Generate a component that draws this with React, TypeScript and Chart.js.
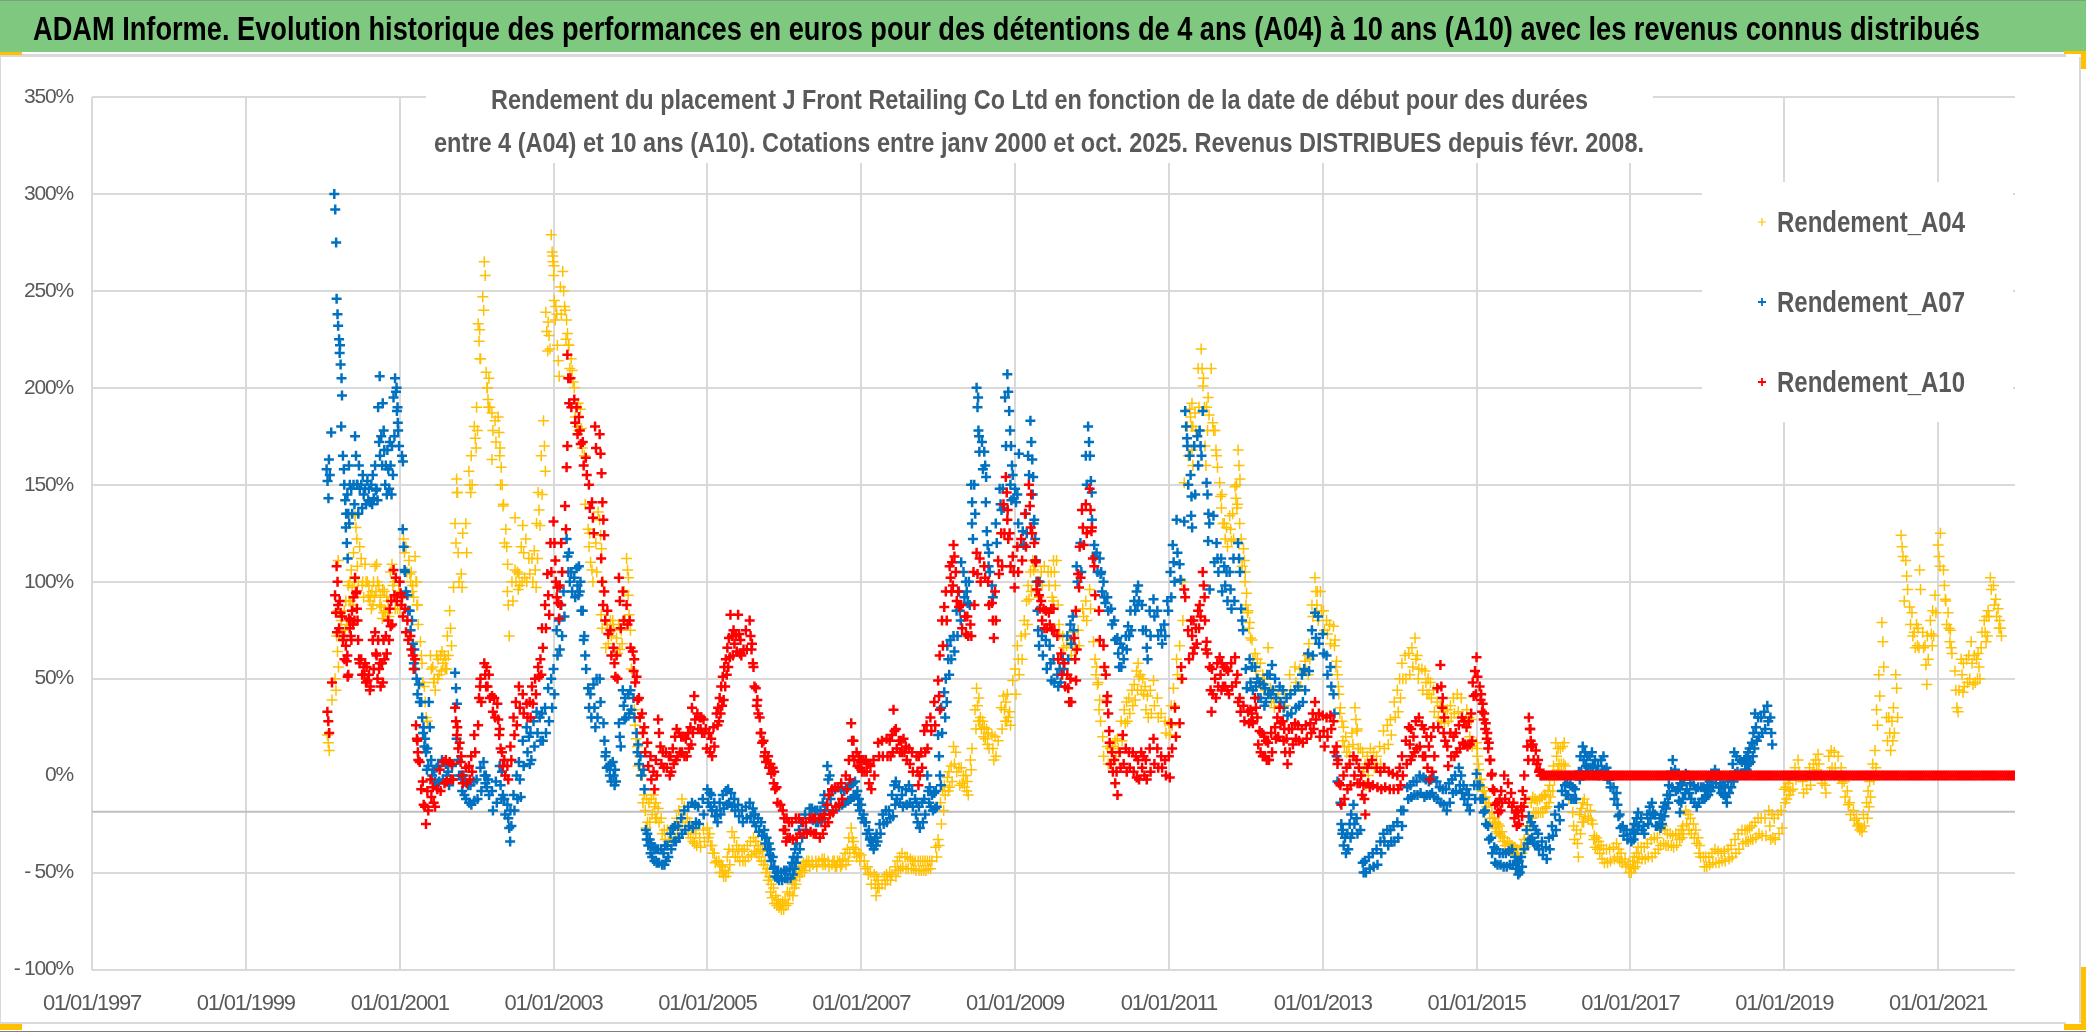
import React, { useEffect, useRef } from "react";
import { Chart, registerables } from "chart.js";

Chart.register(...registerables);

const bannerTitle =
  "ADAM Informe. Evolution historique des performances en euros pour des détentions de 4 ans (A04) à 10 ans (A10) avec les revenus connus distribués";
const subtitleLines = [
  "Rendement du placement J Front Retailing Co Ltd en fonction de la date de début pour des durées",
  "entre 4 (A04) et 10 ans (A10). Cotations entre janv 2000 et oct. 2025. Revenus DISTRIBUES depuis févr. 2008.",
];
const tickYears = [1997, 1999, 2001, 2003, 2005, 2007, 2009, 2011, 2013, 2015, 2017, 2019, 2021];
const axisLineValue = -18.6;

// Each row: [date as decimal year, values read at that date...]
const a04: number[][] = [
  [2000.06,21,17,13],[2000.12,39],[2000.16,50,44],[2000.18,72,64,56],[2000.2,111],[2000.28,85,75],[2000.33,98,90],[2000.37,106,97,88],[2000.42,134,128,122],[2000.45,108,100],
  [2000.48,118],[2000.52,100,92],[2000.55,109,100],[2000.6,98,90],[2000.62,93,86],[2000.66,100,92],[2000.7,109,100],[2000.75,93,87,81],[2000.8,95,85],[2000.85,90,82],[2000.9,109,98],[2000.96,92,86],
  [2001.05,122,115],[2001.12,111,104,100],[2001.17,98,92],[2001.2,113,100,88],[2001.24,78],[2001.27,69,62],[2001.32,46,38,30],[2001.36,28],[2001.4,62,55],[2001.45,50,44],[2001.5,60,52],[2001.55,64,58],[2001.6,60,55],
  [2001.65,85,76,67],[2001.7,97],[2001.72,130,120,146],[2001.74,153,146],[2001.8,104,97],[2001.82,125],[2001.9,157,150,146],[2001.97,180,174,169],[2002.02,233,224,215],[2002.08,247,240],[2002.1,265,258,208,200,194],
  [2002.2,187,178],[2002.2,163],[2002.28,185,177,169],[2002.32,159,150,139],[2002.38,127,118,109],[2002.4,95,88,72],[2002.5,106,100],[2002.5,133],[2002.55,104,98],[2002.6,129,115,102],[2002.68,112,104],[2002.75,116,106,97],
  [2002.8,146,137,129],[2002.87,183,170,157],[2002.9,239,229,219],[2002.93,234,227,220],[2002.97,279,270,265,263],[2003.03,242,238],[2003.05,222,214,206],[2003.12,260,250,242],[2003.17,235,228,222],[2003.23,215,209,203],
  [2003.3,190,180],[2003.35,189,179,169],[2003.45,127,118],[2003.5,106,100],[2003.58,136],[2003.6,132,124,117],[2003.64,100,95],[2003.62,83,76],[2003.68,66],[2003.77,80,76],[2003.82,71,63],[2003.88,75,68],
  [2003.95,112,106,102],[2003.97,93,83],[2004.05,34,26,19],[2004.12,10,0],[2004.18,-10,-18,-27],[2004.24,-14,-24],[2004.3,-10,-16,-22],[2004.36,-17,-24],[2004.44,-28,-33],[2004.53,-34],[2004.6,-22,-30],[2004.67,-12,-22],[2004.74,-22,-30],
  [2004.8,-27,-34],[2004.85,-30,-36],[2004.9,-32,-37],[2005,-27,-32],[2005.06,-36,-40],[2005.12,-44],[2005.18,-46,-50],[2005.23,-49,-52],[2005.28,-38,-46],[2005.32,-29,-39],[2005.38,-36,-42],[2005.45,-39,-44],[2005.52,-36,-42],[2005.6,-32,-39],[2005.66,-36,-42],
  [2005.72,-39,-46],[2005.78,-48,-54],[2005.83,-56,-63],[2005.89,-62,-67],[2005.95,-66,-69],[2006.01,-64,-67],[2006.07,-61],[2006.12,-54,-58],[2006.16,-51],[2006.22,-47,-50],[2006.28,-46,-44],[2006.36,-44,-46],[2006.45,-44],[2006.52,-43,-46],
  [2006.62,-46,-44],[2006.68,-47,-44],[2006.75,-46,-43],[2006.82,-38,-44],[2006.87,-27,-32,-37],[2006.93,-38,-42],[2007,-41],[2007.08,-47,-51],[2007.17,-51,-56,-62],[2007.22,-54,-58],[2007.27,-56],[2007.33,-51,-54],[2007.4,-51],[2007.47,-44,-49],
  [2007.53,-40,-47],[2007.6,-42,-48],[2007.67,-44,-48],[2007.74,-44,-49],[2007.8,-44,-49],[2007.86,-44,-48],[2007.92,-44],[2007.97,-37,-42],[2008,-33,-36],[2008.03,-14,-25],[2008.08,-5,-10],[2008.12,-1,-8],[2008.17,5,-3],
  [2008.2,15,6],[2008.27,4,-5],[2008.33,0,-6],[2008.38,-3,-10],[2008.42,8,3],[2008.44,14],[2008.5,45,36,28],[2008.55,30,24],[2008.6,25,19],[2008.65,22,14],[2008.7,21,14,8],[2008.78,18],[2008.85,41,34,28],[2008.93,33,26],[2008.97,49],
  [2009.03,67,60,52],[2009.12,80,73],[2009.17,98,91],[2009.23,111,106],[2009.3,100,92],[2009.38,108],[2009.5,111,105,98],[2009.54,111],[2009.5,90],[2009.58,73],[2009.67,67],[2009.82,75,67],[2009.88,86,82],[2009.97,96,86],
  [2010.02,69],[2010.06,56,47],[2010.1,39,28],[2010.2,15,6],[2010.27,15,8],[2010.33,19,14],[2010.42,34,27],[2010.48,40,32],[2010.55,47,39],[2010.6,58,51],[2010.66,50,42],[2010.72,41,30],[2010.8,49,36],[2010.9,32],[2011,27,21],[2011.06,45,36],[2011.1,60,52],
  [2011.14,67,50],[2011.2,151],[2011.27,189,185,180],[2011.3,168,160],[2011.34,187,178],[2011.42,220,210,201],[2011.47,170,160],[2011.51,195,186],[2011.55,210],[2011.57,182,178],[2011.62,165,159],[2011.66,151,144,138],[2011.72,130,122],[2011.79,134,127,121],[2011.86,149,143,138],
  [2011.9,168,160,153],[2011.92,130],[2011.97,117,111,105],[2012.01,94,84],[2012.05,79,71],[2012.12,63,54],[2012.19,58,48],[2012.24,50,44],[2012.29,66],[2012.36,40,35],[2012.5,42,36],[2012.64,56,48],[2012.77,59,54],[2012.82,68,60],[2012.86,88,82],[2012.9,102,95,88],[2012.97,95,85],
  [2013.05,80,73],[2013.14,77,67],[2013.18,59,52,46],[2013.23,35],[2013.27,25,15],[2013.34,15,10],[2013.38,22,16],[2013.42,35,29,23],[2013.49,14],[2013.55,6,-5],[2013.62,14,6],[2013.7,10,4],[2013.79,23,14],[2013.88,29,21],[2013.93,38,30],[2013.97,44,33],
  [2014.03,58,50],[2014.12,63,52],[2014.2,71,60],[2014.25,55],[2014.33,54,48,42],[2014.4,48,40],[2014.44,44,33],[2014.57,33,27],[2014.66,36,30],[2014.75,42,33],[2014.86,29,34],[2014.93,29,15],[2015,17,10],
  [2015.03,3,-2],[2015.08,-6,-11],[2015.12,-11,-16],[2015.2,-19,-25],[2015.25,-24,-29],[2015.3,-26,-31],[2015.36,-32,-36],[2015.43,-35,-38],[2015.48,-37,-40],[2015.53,-38,-42],[2015.62,-33,-37],[2015.68,-21,-26],[2015.73,-11,-19],[2015.79,-13,-19],[2015.85,-11,-19],[2015.9,-10,-16],[2015.95,-5,-11],[2016,5,-2],
  [2016.03,17,10,3],[2016.09,14,6],[2016.14,17,5],[2016.2,-12],[2016.25,-19,-26,-33],[2016.3,-28,-35,-42],[2016.36,-17,-24],[2016.4,-12,-21],[2016.48,-18,-23],[2016.53,-31,-37],[2016.59,-34,-40],[2016.65,-38,-45],[2016.73,-38,-44],[2016.82,-35,-42],[2016.88,-40,-45],[2016.93,-43,-47],
  [2017,-47,-50],[2017.05,-42,-47],[2017.1,-37,-42],[2017.18,-37,-43],[2017.27,-33,-42],[2017.35,-32,-38],[2017.42,-26,-35],[2017.48,-30,-36],[2017.55,-31,-37],[2017.63,-30,-33],[2017.68,-26,-30],[2017.72,-18,-25],[2017.78,-22,-30],[2017.85,-28,-35],[2017.9,-36,-42],
  [2017.95,-42,-47],[2018.02,-42,-46],[2018.1,-38,-45],[2018.18,-40,-44],[2018.27,-38,-43],[2018.36,-33,-40],[2018.45,-28,-35],[2018.52,-28,-34],[2018.58,-26,-33],[2018.66,-22,-30],[2018.75,-22,-31],[2018.8,-18,-26,-33],[2018.87,-22,-33],[2018.96,-18,-27],
  [2019,-7,-14],[2019.05,-4,-10],[2019.1,0,-7],[2019.18,8,2],[2019.24,-3,-9],[2019.33,4,-5],[2019.38,6,0],[2019.44,11,6],[2019.48,0,-4],[2019.53,-5,-9],[2019.61,13,4],[2019.65,12,4],[2019.7,10,-1],[2019.78,-3,-11],[2019.85,-14,-20],[2019.9,-18,-23],[2019.94,-22,-26],
  [2020,-27,-29],[2020.07,-14,-22],[2020.11,-3,-11],[2020.18,13,4],[2020.2,34,26],[2020.23,52,41],[2020.27,79,69,56],[2020.36,30,22,13],[2020.4,28,18],[2020.45,52,45,30],[2020.52,124,118,113],[2020.58,111,103,96],[2020.56,90],
  [2020.63,87,78],[2020.69,74,66],[2020.72,78,67],[2020.76,106,96],[2020.8,74,66],[2020.83,67,57,47],[2020.9,80,73,67],[2020.96,93,84],[2021,119,113,108],[2021.03,125],[2021.07,106,98,91],[2021.13,84,76,69],[2021.18,63],[2021.22,54,44,35],
  [2021.26,33,44],[2021.3,60,52,43],[2021.37,60,48],[2021.43,69,58,47],[2021.52,63,56,50],[2021.56,66,74],[2021.6,80,74,69],[2021.65,85,82],[2021.68,102,96],[2021.75,91,82],[2021.8,80,76,72],
];

// Second pass of readings, inside the dense bands of A04
const a04Dense: number[][] = [
  [2000.2,85,72],[2000.24,80,72],[2000.3,90,78],[2000.35,100,90],[2000.4,115,100],[2000.5,112,98],[2000.58,100,92],[2000.64,95,88],[2000.68,108,95],[2000.73,98,88],[2000.78,96,84],[2000.83,92,84],[2000.88,105,90],[2000.93,100,86],[2000.99,95,86],
  [2001.08,118,105],[2001.15,105,95],[2001.22,100,88],[2001.29,58,48],[2001.43,56,48],[2001.48,62,50],[2001.53,62,54],[2001.58,62,55],[2001.62,72,62],[2001.76,115,100],[2001.86,130,115],[2001.93,165,150],
  [2002,190,178],[2002.04,230,215],[2002.14,200,190],[2002.16,205,190],[2002.24,183,172],[2002.3,165,150],[2002.35,140,120],[2002.46,100,90],[2002.53,105,96],[2002.58,118,100],[2002.64,122,100],[2002.72,112,100],[2002.78,130,112],[2002.84,165,145],[2002.99,268,258],
  [2003.01,245,235],[2003.09,252,238],[2003.15,240,225],[2003.2,222,210],[2003.27,200,185],[2003.32,192,178],[2003.4,165,140],[2003.47,125,110],[2003.55,120,105],[2003.7,78,68],[2003.74,80,72],[2003.85,78,65],[2003.92,95,80],
  [2004,75,55],[2004.09,15,5],[2004.15,0,-14],[2004.21,-12,-24],[2004.27,-12,-20],[2004.33,-14,-22],[2004.4,-22,-30],[2004.48,-28,-34],[2004.57,-26,-33],[2004.63,-18,-26],[2004.7,-16,-26],[2004.77,-24,-32],[2004.82,-28,-35],[2004.95,-28,-34],
  [2005.03,-30,-36],[2005.09,-40,-45],[2005.15,-44,-50],[2005.2,-47,-52],[2005.26,-42,-50],[2005.35,-32,-42],[2005.41,-38,-44],[2005.48,-38,-44],[2005.56,-34,-41],[2005.63,-34,-40],[2005.69,-38,-44],[2005.75,-44,-50],[2005.81,-52,-60],[2005.86,-58,-66],[2005.92,-64,-68],[2005.98,-65,-69],
  [2006.04,-60,-66],[2006.1,-56,-62],[2006.14,-52,-56],[2006.19,-48,-52],[2006.25,-45,-49],[2006.32,-44,-47],[2006.41,-44,-47],[2006.49,-43,-46],[2006.57,-44,-47],[2006.65,-44,-47],[2006.72,-44,-47],[2006.79,-40,-46],[2006.84,-32,-40],[2006.9,-34,-40],[2006.97,-40,-44],
  [2007.04,-44,-48],[2007.12,-50,-56],[2007.2,-52,-58],[2007.3,-52,-56],[2007.37,-50,-54],[2007.44,-47,-52],[2007.5,-42,-48],[2007.57,-42,-48],[2007.64,-43,-48],[2007.7,-44,-49],[2007.77,-44,-49],[2007.83,-44,-49],[2007.89,-44,-48],
  [2008.06,-8,-18],[2008.14,2,-6],[2008.23,12,2],[2008.3,4,-4],[2008.36,0,-8],[2008.48,34,24],[2008.53,40,28],[2008.58,28,20],[2008.63,24,16],[2008.74,20,10],[2008.82,35,24],[2008.88,38,28],[2008.9,42,30],
  [2009,55,42],[2009.08,72,60],[2009.15,90,78],[2009.2,105,95],[2009.26,108,100],[2009.34,105,98],[2009.43,105,98],[2009.47,105,92],[2009.56,88,78],[2009.62,72,66],[2009.72,70,62],[2009.76,74,66],[2009.92,90,80],
  [2010.04,60,52],[2010.08,48,34],[2010.14,20,10],[2010.24,14,6],[2010.3,18,10],[2010.38,28,18],[2010.45,38,28],[2010.52,44,36],[2010.58,54,44],[2010.63,52,44],[2010.69,46,34],[2010.76,44,32],[2010.85,40,30],[2010.95,28,22],
  [2011.03,36,26],[2011.17,100,80],[2011.24,180,165],[2011.3,192,180],[2011.38,210,190],[2011.45,205,190],[2011.49,190,178],[2011.6,178,168],[2011.69,145,130],[2011.75,128,118],[2011.83,135,122],[2011.88,150,140],[2011.94,122,108],[2011.99,100,88],
  [2012.03,85,76],[2012.08,70,60],[2012.15,60,50],[2012.22,52,45],[2012.32,45,38],[2012.42,42,36],[2012.57,52,44],[2012.7,55,46],[2012.8,62,52],[2012.93,95,80],
  [2013.01,85,75],[2013.09,78,68],[2013.16,70,56],[2013.21,42,32],[2013.25,28,18],[2013.3,20,12],[2013.45,24,14],[2013.52,12,2],[2013.58,10,0],[2013.66,12,4],[2013.74,15,6],[2013.84,26,16],
  [2014,50,40],[2014.07,62,50],[2014.16,66,56],[2014.23,62,50],[2014.29,55,44],[2014.37,50,42],[2014.49,38,30],[2014.53,36,28],[2014.62,34,28],[2014.7,40,32],[2014.8,40,30],[2014.9,30,20],
  [2015.01,14,6],[2015.06,-2,-8],[2015.1,-8,-14],[2015.16,-14,-22],[2015.23,-22,-27],[2015.28,-25,-30],[2015.33,-29,-34],[2015.4,-34,-38],[2015.46,-36,-39],[2015.5,-37,-41],[2015.58,-36,-40],[2015.66,-26,-32],[2015.71,-14,-22],[2015.76,-12,-19],[2015.82,-12,-19],[2015.88,-10,-17],[2015.93,-8,-14],[2015.98,0,-8],
  [2016.06,14,6],[2016.12,15,6],[2016.34,-20,-30],[2016.38,-14,-24],[2016.44,-15,-22],[2016.51,-25,-33],[2016.56,-32,-38],[2016.62,-36,-43],[2016.69,-38,-45],[2016.78,-37,-43],[2016.85,-38,-44],[2016.97,-46,-50],
  [2017.03,-44,-48],[2017.08,-40,-45],[2017.14,-37,-43],[2017.22,-35,-42],[2017.31,-32,-40],[2017.38,-28,-36],[2017.45,-28,-36],[2017.52,-30,-36],[2017.59,-30,-36],[2017.66,-28,-32],[2017.75,-20,-28],[2017.82,-25,-32],[2017.88,-32,-40],[2017.98,-42,-47],
  [2018.06,-40,-45],[2018.14,-39,-45],[2018.22,-39,-44],[2018.31,-36,-42],[2018.4,-30,-38],[2018.49,-28,-34],[2018.55,-27,-33],[2018.62,-24,-32],[2018.7,-22,-31],[2018.84,-20,-32],[2018.92,-20,-30],
  [2019.02,-6,-12],[2019.07,-2,-8],[2019.14,4,-2],[2019.28,0,-7],[2019.41,8,3],[2019.58,10,2],[2019.74,4,-4],[2019.82,-8,-15],[2019.97,-25,-28],
  [2020.03,-20,-26],[2020.09,-8,-16],[2020.15,6,-2],[2020.33,30,18],[2020.42,35,22],[2020.66,84,72],[2020.74,76,66],[2020.86,72,60],[2020.93,85,72],[2021.1,90,78],[2021.16,75,66],[2021.33,58,46],[2021.4,62,50],[2021.47,62,48],[2021.5,60,50],[2021.63,82,72],[2021.72,98,88],[2021.78,86,76],
];

const a07: number[][] = [
  [2000.05,158,152,143],[2000.08,163,155],[2000.11,177],[2000.15,300,292,275],[2000.18,246,238],[2000.2,232,225,222],[2000.22,218,212,205],[2000.24,180],[2000.25,196,165,158],[2000.28,150,142,135],[2000.3,128,120,112],[2000.32,145,135,130],
  [2000.37,148,135],[2000.42,175,165,150],[2000.47,160,148],[2000.52,155,145],[2000.58,152,142],[2000.63,150,140],[2000.68,160,147],[2000.72,190,172,165],[2000.74,206],[2000.78,192,178],[2000.84,168,158,148],[2000.87,172,160,145],[2000.94,205,198,188,182],[2000.98,178,170],[2001.03,165,162],
  [2001.04,127,118,106],[2001.1,93,85],[2001.16,80,68,58],[2001.22,50,42],[2001.28,38,30,22],[2001.33,19,12,3],[2001.38,38,25],[2001.45,3,-3],[2001.5,5,-3],[2001.6,6,0],[2001.68,5,-2],[2001.72,53,45,37],[2001.74,19],[2001.8,0,-8],[2001.85,-3,-12],[2001.92,-5,-15],
  [2002,-2,-12],[2002.09,7,0,-4],[2002.15,-2,-10],[2002.2,-8,-18],[2002.3,5,-5,-12],[2002.36,-12,-20],[2002.4,-15,-22,-27,-34],[2002.48,-10,-18],[2002.55,7,-2,-11],[2002.65,25,12],[2002.7,22,8],[2002.78,33,22],[2002.85,32,18],[2002.93,45,28],
  [2003,55,42],[2003.04,75,62],[2003.07,80,65],[2003.13,95,82],[2003.17,122,113,105],[2003.23,105,95],[2003.3,107,98,93],[2003.35,100,85],[2003.4,72,62,55],[2003.45,45,35],[2003.52,47,35,25],[2003.6,50,38],[2003.65,27,18,10],[2003.72,5,0],[2003.77,7,0,-5],[2003.8,3,-3],
  [2003.85,27,20,15],[2003.9,44,36,29],[2003.97,42,32],[2004.04,40,30],[2004.08,22,12],[2004.13,10,0],[2004.17,3,-7],[2004.2,-28,-33],[2004.25,-33,-40],[2004.3,-37,-44],[2004.36,-38,-45],[2004.43,-40,-46],[2004.48,-36,-42],[2004.55,-27,-34],[2004.62,-26,-32],[2004.7,-18,-28],[2004.8,-14,-27],[2004.88,-16,-25],
  [2005,-7,-14],[2005.05,-10,-18],[2005.12,-18,-24],[2005.2,-10,-17],[2005.27,-7,-14],[2005.35,-12,-18],[2005.45,-18,-24],[2005.55,-14,-21],[2005.62,-20,-26],[2005.7,-24,-31],[2005.77,-32,-38],[2005.82,-38,-44],[2005.87,-47,-52],[2005.92,-50,-54],
  [2006,-49,-53],[2006.07,-48,-53],[2006.12,-42,-48],[2006.16,-35,-42],[2006.22,-24,-32],[2006.33,-17,-22],[2006.4,-18,-24],[2006.47,-18,-23],[2006.52,-10,-18],[2006.56,5,-2,-10],[2006.62,-8,-18],[2006.7,-6,-16],[2006.78,-8,-14],[2006.85,-5,-12],[2006.92,-3,-10],[2006.97,-12,-18],
  [2007.03,-20,-24],[2007.1,-28,-33],[2007.15,-34,-38],[2007.2,-30,-34],[2007.28,-20,-25],[2007.36,-18,-22],[2007.4,-10,-21],[2007.45,-3,-12],[2007.53,-10,-16],[2007.62,-5,-14],[2007.7,-12,-20],[2007.75,-16,-27],[2007.82,-12,-20],[2007.86,0,-8,-14],[2007.92,-10,-18],[2007.97,-8,-16],
  [2008,21,10,0,-5],[2008.08,43,30],[2008.12,67,60,52],[2008.2,72,64],[2008.27,95,85,80],[2008.3,110],[2008.36,100,95,89],[2008.44,130,122],[2008.43,150,141],[2008.5,200,190,178,167],[2008.6,167,160,154],[2008.62,141,126,119,108],[2008.7,98,92],[2008.8,148,140,137],[2008.9,207,198,188,178,170,160],
  [2009,148,141],[2009.05,166],[2009.1,126,119],[2009.2,183,172,163,154],[2009.25,132,122,111],[2009.32,100],[2009.3,75,67],[2009.45,67,58,49],[2009.55,52,46],[2009.62,60,55],[2009.75,82,75],[2009.8,108,100],[2009.95,180,172,165,152,146],
  [2010,132],[2010.03,119,113],[2010.1,112,104],[2010.15,100,92,89],[2010.25,86,78],[2010.33,71,63,56],[2010.4,66,60],[2010.47,77,72],[2010.55,90,85],[2010.6,98,90],[2010.7,75,66,60],[2010.8,91,82],[2010.9,75,68],[2010.98,90,85],
  [2011.05,119,110,100],[2011.1,132,115],[2011.14,109,101],[2011.2,131,188,180,174],[2011.27,165,155,144],[2011.29,134,128],[2011.4,178,170,165],[2011.44,188],[2011.49,151,145,135,130],[2011.51,121],[2011.53,96],[2011.58,134,110],[2011.62,120,112,105],[2011.72,108,98],[2011.79,105,96,86],[2011.9,120,112,105],[2011.94,86,80,75],
  [2012.05,60,48],[2012.12,56,46],[2012.18,48,40],[2012.23,47,36],[2012.28,52,42],[2012.34,57,44],[2012.44,46,38],[2012.53,40,31],[2012.64,44,35],[2012.73,52,38],[2012.81,63,54],[2012.86,75,62],[2012.9,84,71],
  [2013,73,63],[2013.1,56,46],[2013.14,42,32],[2013.18,10,-3],[2013.23,-14,-25,-30],[2013.29,-32,-40],[2013.35,-25,-32],[2013.4,-15,-25],[2013.49,-28],[2013.55,-44,-50],[2013.6,-42,-48],[2013.7,-38,-46],[2013.79,-30,-34],[2013.88,-28,-34],[2013.97,-24,-32],
  [2014.05,-18],[2014.1,-6,-12],[2014.14,-5,-11],[2014.22,-3,-10],[2014.31,-1,-11],[2014.38,-3,-10],[2014.44,-1,-11],[2014.52,-6,-14],[2014.6,-7,-18],[2014.68,-2,-9],[2014.77,4,-5],[2014.83,-5,-12],[2014.9,-10,-18],[2014.97,-5,-12],
  [2015,1,-5],[2015.08,-12,-19],[2015.15,-26,-33],[2015.23,-37,-45],[2015.3,-40,-46],[2015.38,-40,-47],[2015.46,-38,-46],[2015.53,-45,-51],[2015.58,-42,-47],[2015.62,-38],[2015.68,-21,-33],[2015.74,-26,-35],[2015.8,-30,-38],[2015.9,-37,-43],[2015.98,-26,-31],
  [2016.07,-16,-23],[2016.15,-5,-10],[2016.22,-5,-12],[2016.28,-7,-12],[2016.33,2,-2],[2016.38,15,8],[2016.44,10,4],[2016.5,12,5],[2016.58,5,0],[2016.65,10,3],[2016.73,-2,-6],[2016.78,-6,-12],[2016.82,-9,-15,-21],[2016.9,-26,-31],
  [2017,-30,-34],[2017.05,-25,-30],[2017.1,-19,-26],[2017.17,-26,-30],[2017.22,-20,-25],[2017.28,-14,-19],[2017.35,-26],[2017.4,-20,-25],[2017.45,-14,-17],[2017.5,-5,-10],[2017.55,8,1],[2017.62,-7,-13,-19],[2017.67,-5,-12],[2017.72,1,-7],[2017.78,-4,-12],[2017.85,-7,-16],[2017.92,-6,-12],[2017.97,-7,-11],
  [2018.03,-3,-8],[2018.1,3,-4],[2018.17,-4,-9],[2018.23,-6,-11,-14],[2018.3,0,-6],[2018.35,12,1],[2018.42,8,1],[2018.48,8,3],[2018.53,12,6],[2018.58,17,10],[2018.62,32,25,18],[2018.7,30,22],[2018.78,36,28],[2018.82,30,22,16],
];

// Second pass of readings, inside the dense bands of A07
const a07Dense: number[][] = [
  [2000.34,160,150],[2000.4,150,140],[2000.45,150,135],[2000.5,150,138],[2000.55,148,140],[2000.6,148,141],[2000.65,155,143],[2000.7,148,142],[2000.76,175,160],[2000.8,168,150],[2000.82,160,145],[2000.9,170,155],[2000.92,195,175],[2000.96,200,190],
  [2001.07,105,95],[2001.13,85,75],[2001.19,65,55],[2001.25,47,38],[2001.31,25,15],[2001.36,14,5],[2001.41,8,0],[2001.48,4,-4],[2001.55,8,-2],[2001.63,2,-5],[2001.76,8,0],[2001.83,0,-10],[2001.89,-5,-14],[2001.96,-3,-13],
  [2002.05,4,-8],[2002.12,0,-6],[2002.25,-3,-14],[2002.33,2,-10],[2002.44,-18,-26],[2002.52,0,-12],[2002.6,18,5],[2002.68,20,6],[2002.74,28,15],[2002.82,30,18],[2002.89,35,22],[2002.97,50,35],
  [2003.1,88,72],[2003.2,115,100],[2003.27,102,92],[2003.33,108,95],[2003.38,85,70],[2003.48,42,30],[2003.56,50,30],[2003.68,12,4],[2003.74,6,-3],[2003.93,40,30],
  [2004,44,34],[2004.1,16,6],[2004.22,-30,-36],[2004.27,-35,-42],[2004.33,-38,-45],[2004.4,-38,-46],[2004.45,-36,-44],[2004.52,-30,-38],[2004.58,-26,-34],[2004.66,-22,-30],[2004.75,-16,-26],[2004.84,-15,-24],[2004.94,-12,-20],
  [2005.03,-9,-16],[2005.09,-14,-21],[2005.16,-14,-20],[2005.24,-8,-15],[2005.31,-9,-16],[2005.4,-15,-21],[2005.5,-16,-22],[2005.59,-17,-24],[2005.66,-22,-29],[2005.74,-28,-35],[2005.8,-35,-41],[2005.85,-42,-48],[2005.9,-50,-53],[2005.96,-50,-54],
  [2006.03,-49,-53],[2006.1,-45,-51],[2006.14,-38,-45],[2006.19,-28,-38],[2006.27,-20,-28],[2006.36,-17,-23],[2006.43,-18,-24],[2006.5,-14,-20],[2006.59,0,-12],[2006.66,-7,-16],[2006.74,-7,-15],[2006.82,-6,-13],[2006.89,-4,-11],[2006.95,-8,-15],
  [2007,-15,-22],[2007.06,-24,-30],[2007.12,-32,-36],[2007.18,-32,-36],[2007.24,-25,-30],[2007.32,-18,-24],[2007.43,-5,-15],[2007.49,-6,-14],[2007.58,-7,-15],[2007.66,-8,-16],[2007.72,-14,-24],[2007.79,-14,-24],[2007.89,-6,-16],[2007.95,-9,-17],
  [2008.04,35,22],[2008.1,50,38],[2008.16,70,60],[2008.24,85,72],[2008.33,105,92],[2008.4,100,88],[2008.47,150,135],[2008.52,195,175],[2008.57,172,158],[2008.66,115,105],[2008.75,130,120],[2008.84,148,138],[2008.87,195,170],[2008.94,150,142],[2008.97,155,143],
  [2009.03,145,130],[2009.14,135,125],[2009.17,165,155],[2009.23,145,130],[2009.28,100,85],[2009.35,72,62],[2009.4,70,55],[2009.5,60,48],[2009.58,55,48],[2009.68,72,60],[2009.72,78,68],[2009.85,120,105],[2009.92,165,150],
  [2010.06,115,105],[2010.12,105,95],[2010.2,92,85],[2010.29,80,70],[2010.37,68,56],[2010.44,72,65],[2010.5,85,75],[2010.58,95,88],[2010.65,88,75],[2010.75,85,72],[2010.85,85,72],[2010.94,78,72],
  [2011.02,105,92],[2011.24,170,150],[2011.33,170,145],[2011.37,175,160],[2011.68,112,95],[2011.75,105,90],[2011.84,112,90],[2012,55,45],[2012.08,56,44],[2012.15,50,40],[2012.25,45,38],[2012.31,52,42],[2012.38,50,40],[2012.48,44,35],[2012.58,42,32],[2012.68,46,36],[2012.76,55,44],[2012.94,82,68],
  [2013.05,62,52],[2013.26,-28,-36],[2013.32,-30,-38],[2013.37,-20,-30],[2013.44,-22,-30],[2013.52,-45,-50],[2013.65,-40,-47],[2013.75,-34,-40],[2013.84,-28,-36],[2013.92,-26,-34],
  [2014.02,-18,-26],[2014.18,-3,-10],[2014.26,0,-9],[2014.34,-2,-10],[2014.41,-2,-9],[2014.48,-3,-12],[2014.56,-7,-15],[2014.64,-4,-14],[2014.72,0,-8],[2014.8,0,-9],[2014.87,-7,-15],
  [2015.04,-5,-12],[2015.11,-18,-25],[2015.19,-32,-40],[2015.26,-38,-46],[2015.34,-40,-47],[2015.42,-39,-46],[2015.5,-42,-48],[2015.55,-44,-50],[2015.65,-28,-35],[2015.71,-24,-32],[2015.77,-28,-36],[2015.85,-34,-41],[2015.94,-32,-38],
  [2016.02,-20,-28],[2016.11,-8,-15],[2016.18,-4,-10],[2016.25,-6,-12],[2016.35,10,2],[2016.41,12,5],[2016.47,10,4],[2016.54,8,2],[2016.62,8,2],[2016.69,4,-2],[2016.86,-20,-27],[2016.95,-28,-33],
  [2017.03,-28,-33],[2017.08,-22,-28],[2017.14,-22,-28],[2017.25,-16,-22],[2017.32,-20,-26],[2017.38,-22,-27],[2017.43,-16,-21],[2017.48,-10,-14],[2017.53,2,-6],[2017.58,3,-8],[2017.65,-4,-14],[2017.7,-2,-9],[2017.75,0,-9],[2017.82,-5,-14],[2017.88,-6,-14],[2017.95,-6,-12],
  [2018,-5,-10],[2018.06,0,-6],[2018.14,0,-6],[2018.2,-5,-10],[2018.27,-3,-9],[2018.33,6,-3],[2018.38,10,2],[2018.45,7,1],[2018.5,9,3],[2018.55,14,7],[2018.6,22,14],[2018.66,30,20],[2018.74,33,24],
];

const a10: number[][] = [
  [2000.06,33,28,22],[2000.12,48],[2000.18,108,100],[2000.16,93,84,74],[2000.22,90,84],[2000.3,67,59,51],[2000.34,81,76,72],[2000.38,85,78],[2000.42,102,94,86],[2000.48,58],[2000.53,56,52],[2000.57,56,49],[2000.62,46],[2000.68,74,63],[2000.74,58,46],[2000.82,72,63],[2000.87,86,77],[2000.92,106,93],
  [2001,100,94,88],[2001.07,86,74],[2001.14,72,65],[2001.2,60,26,19,12],[2001.26,7],[2001.28,-7],[2001.33,-16,-25],[2001.4,-2,-11],[2001.46,-16],[2001.49,-7],[2001.57,7,-4],[2001.65,7,-2],[2001.72,35,28,21],[2001.78,17,7],[2001.82,-4],[2001.9,5,-2],[2001.97,21,12],
  [2002.02,26,40,46],[2002.1,58,52,46],[2002.2,41,33],[2002.27,37,29,21],[2002.33,12,5],[2002.4,5,-2],[2002.48,30,21],[2002.55,46,35],[2002.65,37,30],[2002.72,46,37],[2002.8,56,51],[2002.85,76,66],[2002.92,104,93,83],[2003,131,120,111],[2003.03,100,92],[2003.05,97,89,81],
  [2003.15,139,127],[2003.17,159],[2003.18,217,205,192],[2003.27,194,182],[2003.33,185,178,171],[2003.18,170],[2003.42,164,155],[2003.5,141,133,125],[2003.54,180,169],[2003.6,176,166,156,141,132,124],[2003.62,112,100,88],[2003.7,85,73],[2003.78,66,58,51],[2003.85,102,90,76],[2003.95,88,78],
  [2004.03,64,54],[2004.08,51,39],[2004.15,32,22],[2004.22,17,5],[2004.3,2,-7],[2004.36,29,22],[2004.42,12,4],[2004.5,10,0],[2004.55,14,6],[2004.6,24,10],[2004.66,20,12],[2004.72,19,10],[2004.78,25,16],[2004.83,41,29],[2004.9,30,24],[2004.95,29,22],
  [2005.05,19,10],[2005.12,32,26],[2005.16,40,32],[2005.2,51,39],[2005.24,60,52],[2005.28,71,61],[2005.3,83],[2005.34,75,68],[2005.4,83,73,63],[2005.47,65],[2005.55,80,72,65],[2005.6,56,46],[2005.65,39,32],[2005.7,22,17],[2005.75,12,7],[2005.82,6,1],[2005.87,2,-7],[2005.95,-15],
  [2006,-22,-28,-34],[2006.06,-24,-32],[2006.15,-22,-32],[2006.24,-24,-30],[2006.33,-22,-29],[2006.4,-22,-30],[2006.45,-22,-32],[2006.52,-20,-26],[2006.62,-7,-19],[2006.7,-6,-15],[2006.8,0,-7],[2006.87,27,18,10],[2006.94,12,5],[2007,7,2],[2007.06,8,2],[2007.12,5,-7],[2007.22,17,10],[2007.33,19,10],
  [2007.4,21,12],[2007.42,34,23],[2007.49,18,12],[2007.55,19,12],[2007.62,14,6],[2007.72,10,2,-5],[2007.78,12,4],[2007.82,23,12],[2007.9,30,23],[2008,49,41,34],[2008.02,62],[2008.05,80,67],[2008.08,87],[2008.15,108,102,95],[2008.2,119,113],[2008.26,95,87],
  [2008.35,82,73],[2008.42,78,72],[2008.5,115,104],[2008.6,108,102],[2008.7,89,80,71],[2008.78,111,104],[2008.88,154,146,137],[2008.9,132,122],[2008.97,113,105,97],[2009.08,122,111],[2009.18,150,139,128],[2009.25,120,111],[2009.3,100,93,86],[2009.37,86,76],[2009.44,84,78],[2009.5,86,75],[2009.6,63,52],[2009.68,52,45,38],[2009.77,71,60,49],[2009.82,104,97],[2009.87,137,128,119],[2009.97,148,137,126],
  [2010.03,108,93],[2010.15,67,56],[2010.2,41,32,23],[2010.23,17,6],[2010.32,2,-10],[2010.36,12,4],[2010.4,21,6],[2010.48,12,4],[2010.57,10,-1],[2010.64,12,4],[2010.7,8,-2],[2010.8,19,6],[2010.9,10,4],[2011,10,-1],[2011.03,27,14],
  [2011.14,27],[2011.16,56,50],[2011.2,96,92],[2011.29,80,72,63],[2011.35,76,68],[2011.4,88,82],[2011.44,105,98,92],[2011.49,69,63],[2011.53,56,44,33],[2011.6,50,40],[2011.66,61,52,44],[2011.72,56,46],[2011.77,54,42],[2011.86,61,48],[2011.92,40,33],
  [2012.03,33,27],[2012.08,32,27],[2012.12,40,35],[2012.18,23,12],[2012.24,20,10],[2012.29,17,8],[2012.38,25,19],[2012.44,35,27],[2012.48,28,18],[2012.53,19,6],[2012.6,24,16],[2012.64,27,19],[2012.73,24,17],[2012.84,27,22],[2012.9,38,29],
  [2013,31,23,15],[2013.1,31,24],[2013.18,15,6],[2013.23,-5,-15],[2013.31,4,-7],[2013.4,10,0],[2013.47,4,-4],[2013.53,-5,-12,-20],[2013.58,4,-4],[2013.64,8,-5],[2013.75,2,-7],[2013.86,2,-7],[2013.97,0,-7],
  [2014.03,10,0],[2014.12,25,16,8],[2014.18,20,12],[2014.25,30,15],[2014.32,24,10],[2014.38,15,-2],[2014.44,25,10],[2014.53,57,46,35],[2014.58,30,18],[2014.62,15,5],[2014.73,22,12],[2014.81,30,17],[2014.87,25,15],[2014.93,32,18],[2014.95,48,41],
  [2015,61,51],[2015.04,46,39],[2015.08,37,29],[2015.12,27,19],[2015.16,17,8],[2015.2,1,-7],[2015.27,-14,-19],[2015.32,-8,-14],[2015.36,0,-12],[2015.45,-9,-16],[2015.51,-19,-26],[2015.58,-16,-21],[2015.62,0,-12],[2015.68,30,24,18],[2015.66,15,8],[2015.77,13,6],[2015.82,3,0],
];

// Second pass of readings, inside the dense bands of A10
const a10Dense: number[][] = [
  [2000.2,88,76],[2000.25,82,70],[2000.27,72,60],[2000.32,62,52],[2000.36,80,70],[2000.4,92,80],[2000.44,95,80],[2000.46,70,60],[2000.5,60,52],[2000.55,58,48],[2000.6,52,44],[2000.65,70,55],[2000.7,62,50],[2000.72,70,55],[2000.77,58,48],[2000.79,70,60],[2000.85,80,70],[2000.89,90,78],[2000.95,102,90],
  [2001.03,92,82],[2001.1,80,70],[2001.17,62,55],[2001.23,18,8],[2001.3,-3,-15],[2001.36,-8,-18],[2001.43,-6,-14],[2001.52,3,-8],[2001.6,8,-3],[2001.68,6,-2],[2001.75,25,14],[2001.8,10,0],[2001.86,4,-4],[2001.93,10,2],
  [2002.05,50,38],[2002.13,56,46],[2002.16,52,40],[2002.23,40,30],[2002.3,24,14],[2002.36,8,0],[2002.44,15,8],[2002.51,38,26],[2002.6,42,32],[2002.69,38,30],[2002.76,50,42],[2002.83,60,52],[2002.89,88,76],[2002.96,120,105],
  [2003.08,98,88],[2003.1,120,105],[2003.22,205,190],[2003.3,190,176],[2003.38,172,160],[2003.46,150,138],[2003.66,95,80],[2003.74,75,62],[2003.82,62,50],[2003.9,95,80],[2003.99,80,66],
  [2004.05,60,48],[2004.11,40,30],[2004.18,25,12],[2004.26,10,-2],[2004.33,8,0],[2004.39,15,6],[2004.46,12,4],[2004.52,10,2],[2004.58,20,8],[2004.63,22,12],[2004.69,20,10],[2004.75,22,14],[2004.8,35,22],[2004.87,32,24],[2004.92,30,22],[2004.98,24,14],
  [2005.02,22,12],[2005.08,25,15],[2005.14,35,28],[2005.18,46,36],[2005.22,56,46],[2005.26,66,56],[2005.32,72,62],[2005.37,72,64],[2005.43,70,62],[2005.5,75,65],[2005.58,68,58],[2005.63,45,36],[2005.68,30,22],[2005.73,18,10],[2005.79,10,4],[2005.85,4,-4],[2005.9,-6,-14],[2005.98,-18,-28],
  [2006.03,-22,-32],[2006.1,-24,-33],[2006.19,-22,-30],[2006.28,-24,-30],[2006.37,-22,-30],[2006.49,-22,-30],[2006.56,-15,-24],[2006.58,-10,-20],[2006.66,-6,-16],[2006.74,-4,-12],[2006.84,8,-2],[2006.9,18,8],[2006.97,10,4],
  [2007.03,8,2],[2007.09,6,-4],[2007.16,8,0],[2007.27,18,10],[2007.37,18,10],[2007.45,24,14],[2007.52,18,12],[2007.58,15,8],[2007.66,12,2],[2007.75,10,0],[2007.85,26,14],[2007.95,38,26],
  [2008.1,95,80],[2008.18,110,98],[2008.23,105,90],[2008.3,88,76],[2008.38,82,72],[2008.46,105,88],[2008.54,112,100],[2008.65,100,88],[2008.74,95,80],[2008.82,125,108],[2008.85,140,125],[2008.93,125,108],
  [2009.03,118,105],[2009.13,135,118],[2009.21,145,125],[2009.27,110,96],[2009.34,90,80],[2009.4,85,76],[2009.47,86,75],[2009.55,72,60],[2009.64,58,46],[2009.72,50,38],[2009.79,85,65],[2009.84,118,102],[2009.92,140,125],
  [2010,128,112],[2010.09,85,70],[2010.18,52,38],[2010.26,12,2],[2010.29,8,-4],[2010.44,14,2],[2010.53,12,2],[2010.6,8,-2],[2010.67,10,0],[2010.75,14,2],[2010.85,14,4],[2010.95,8,0],
  [2011.08,35,20],[2011.25,75,60],[2011.32,80,66],[2011.38,85,76],[2011.47,80,65],[2011.56,55,42],[2011.63,58,46],[2011.69,58,46],[2011.75,55,44],[2011.81,58,46],[2011.89,52,38],[2011.97,36,28],
  [2012.06,34,28],[2012.15,30,16],[2012.21,22,10],[2012.26,18,8],[2012.33,22,12],[2012.41,30,20],[2012.5,24,12],[2012.56,24,12],[2012.68,26,18],[2012.78,26,19],[2012.87,32,24],[2012.95,32,20],
  [2013.05,30,20],[2013.14,28,12],[2013.2,8,-4],[2013.27,0,-12],[2013.35,6,-5],[2013.44,8,-4],[2013.5,0,-10],[2013.6,6,-6],[2013.7,4,-6],[2013.8,4,-6],[2013.91,1,-7],
  [2014,4,-5],[2014.08,18,6],[2014.15,24,10],[2014.21,28,14],[2014.29,26,10],[2014.35,20,4],[2014.41,20,2],[2014.49,45,25],[2014.56,40,22],[2014.66,22,10],[2014.7,20,10],[2014.77,26,14],[2014.84,28,16],[2014.9,28,16],[2014.98,54,42],
  [2015.06,42,33],[2015.1,32,24],[2015.14,22,14],[2015.18,8,0],[2015.23,-8,-15],[2015.3,-12,-18],[2015.41,-4,-14],[2015.48,-14,-22],[2015.54,-18,-25],[2015.6,-8,-16],[2015.7,24,15],[2015.73,16,8],[2015.8,8,2],
];

// Flat part of A10 after oct. 2015: the value stays at 0 %
const a10FlatValue = 0;
const a10FlatYears = [2016, 2017, 2018, 2019, 2020, 2021];
const a10FlatFractions = [
  0, 0.025, 0.05, 0.075, 0.1, 0.125, 0.15, 0.175, 0.2, 0.225, 0.25, 0.275, 0.3, 0.325, 0.35, 0.375, 0.4, 0.425, 0.45, 0.475,
  0.5, 0.525, 0.55, 0.575, 0.6, 0.625, 0.65, 0.675, 0.7, 0.725, 0.75, 0.775, 0.8, 0.825, 0.85, 0.875, 0.9, 0.925, 0.95, 0.975,
];
const a10FlatHead = [2015.85, 2015.875, 2015.9, 2015.925, 2015.95, 2015.975];
const a10FlatTail = [2022];

const FONT = '"Liberation Sans", sans-serif';
const GREY = "#595959";
const COLORS = { a04: "#FFC000", a07: "#0070C0", a10: "#FF0000" };

const toPoints = (rows: number[][]) =>
  rows.flatMap((r) => r.slice(1).map((v, j) => ({ x: r[0] + j * 0.012, y: v })));

const a10FlatDates = [
  ...a10FlatHead,
  ...a10FlatYears.flatMap((y) => a10FlatFractions.map((f) => y + f)),
  ...a10FlatTail,
];

function fitted(ctx: CanvasRenderingContext2D, text: string, x0: number, width: number, base: number, font: string, color: string) {
  ctx.save();
  ctx.font = font;
  ctx.fillStyle = color;
  ctx.textAlign = "left";
  ctx.textBaseline = "alphabetic";
  const w = ctx.measureText(text).width;
  ctx.translate(x0, base);
  ctx.scale(width / w, 1);
  ctx.fillText(text, 0, 0);
  ctx.restore();
}

const framePlugin = {
  id: "frame",
  beforeDraw(chart: any) {
    const c = chart.ctx as any;
    c.save();
    c.fillStyle = "#FFFFFF";
    c.fillRect(0, 0, 2086, 1032);
    c.fillStyle = "#7EC97F";
    c.fillRect(0, 0, 2086, 52);
    c.fillStyle = "#7F9F85";
    c.fillRect(0, 0, 2086, 1);
    c.fillStyle = "#D9D9D9";
    c.fillRect(0, 54, 2066, 3);
    c.fillRect(0, 1022, 2066, 2);
    c.fillRect(2079, 57, 2, 966);
    c.fillRect(0, 56, 1, 970);
    c.fillStyle = "#FFC000";
    c.fillRect(0, 52, 22, 3);
    c.fillRect(2064, 51, 22, 3);
    c.fillRect(2081, 52, 5, 17);
    c.fillRect(0, 1024, 22, 6);
    c.fillRect(2064, 1024, 22, 6);
    c.fillRect(2081, 967, 5, 63);
    c.fillStyle = "#7F7F7F";
    c.fillRect(0, 1031, 2086, 1);
    c.restore();
    // The reference axis labels are tightly set
    c.letterSpacing = "-1.2px";
  },
  beforeDatasetsDraw(chart: any) {
    const c = chart.ctx as CanvasRenderingContext2D;
    c.save();
    c.fillStyle = "#FFFFFF";
    c.fillRect(426, 85, 1227, 78);
    c.fillRect(1702, 182, 311, 240);
    c.restore();
  },
  afterDraw(chart: any) {
    const c = chart.ctx as any;
    c.letterSpacing = "0px";
    fitted(c, bannerTitle, 33, 1947, 40, `bold 33px ${FONT}`, "#000000");
    fitted(c, subtitleLines[0], 491, 1097, 109, `bold 28px ${FONT}`, GREY);
    fitted(c, subtitleLines[1], 434, 1210, 152, `bold 28px ${FONT}`, GREY);
    const rows = chart.data.datasets.filter((d: any) => d.label.startsWith("Rendement"));
    const order = ["Rendement_A04", "Rendement_A07", "Rendement_A10"];
    order.forEach((name, i) => {
      const d = rows.find((r: any) => r.label === name);
      const cy = 222 + i * 80;
      c.save();
      c.strokeStyle = d.borderColor;
      c.lineWidth = i === 0 ? 1.2 : 1.8;
      c.beginPath();
      c.moveTo(1758, cy);
      c.lineTo(1766, cy);
      c.moveTo(1762, cy - 4);
      c.lineTo(1762, cy + 4);
      c.stroke();
      c.restore();
      fitted(c, name, 1777, 188, cy + 10, `bold 29px ${FONT}`, GREY);
    });
  },
};

export default function App() {
  const ref = useRef<HTMLCanvasElement>(null);
  useEffect(() => {
    const chart = new Chart(ref.current!, {
      type: "scatter",
      data: {
        datasets: [
          {
            label: "Rendement_A04",
            data: [...toPoints(a04), ...toPoints(a04Dense)],
            order: 3,
            pointStyle: "cross",
            pointRadius: 5.5,
            borderColor: COLORS.a04,
            backgroundColor: COLORS.a04,
            pointBorderWidth: 1.5,
          },
          {
            label: "Rendement_A07",
            data: [...toPoints(a07), ...toPoints(a07Dense)],
            order: 2,
            pointStyle: "cross",
            pointRadius: 5,
            borderColor: COLORS.a07,
            backgroundColor: COLORS.a07,
            pointBorderWidth: 2.5,
          },
          {
            label: "Rendement_A10",
            data: [...toPoints(a10), ...toPoints(a10Dense), ...a10FlatDates.map((x) => ({ x, y: a10FlatValue }))],
            order: 1,
            pointStyle: "cross",
            pointRadius: 5,
            borderColor: COLORS.a10,
            backgroundColor: COLORS.a10,
            pointBorderWidth: 2.5,
          },
          {
            label: "axe",
            type: "line",
            data: [
              { x: 1997, y: axisLineValue },
              { x: 2022, y: axisLineValue },
            ],
            order: 4,
            pointRadius: 0,
            borderColor: "#BFBFBF",
            borderWidth: 2,
          } as any,
        ],
      },
      plugins: [framePlugin],
      options: {
        animation: false,
        responsive: false,
        devicePixelRatio: 1,
        layout: { padding: { left: 0, top: 97, right: 71, bottom: 0 } },
        plugins: { legend: { display: false }, title: { display: false }, tooltip: { enabled: false } },
        scales: {
          x: {
            type: "linear",
            min: 1997,
            max: 2022,
            afterBuildTicks: (s: any) => {
              s.ticks = tickYears.map((value) => ({ value }));
            },
            afterFit: (s: any) => {
              s.height = 62.5;
            },
            grid: { color: "#D9D9D9", lineWidth: 2, drawTicks: false },
            border: { display: false },
            ticks: {
              autoSkip: false,
              maxRotation: 0,
              padding: 21,
              color: GREY,
              font: { family: FONT, size: 22 },
              callback: (v: any) => `01/01/${v}`,
            },
          },
          y: {
            min: -100,
            max: 350,
            afterFit: (s: any) => {
              s.width = 92;
            },
            grid: {
              color: (ctx: any) => (ctx.tick && ctx.tick.value === 0 ? "rgba(0,0,0,0)" : "#D9D9D9"),
              lineWidth: 2,
              drawTicks: false,
            },
            border: { display: false },
            ticks: {
              stepSize: 50,
              padding: 19,
              color: GREY,
              font: { family: FONT, size: 21 },
              callback: (v: any) => (Number(v) < 0 ? `- ${-Number(v)}%` : `${v}%`),
            },
          },
        },
      },
    } as any);
    return () => chart.destroy();
  }, []);
  return (
    <div style={{ position: "absolute", left: 0, top: 0, width: 2086, height: 1032 }}>
      <canvas ref={ref} width={2086} height={1032} style={{ display: "block", width: 2086, height: 1032 }} />
    </div>
  );
}
